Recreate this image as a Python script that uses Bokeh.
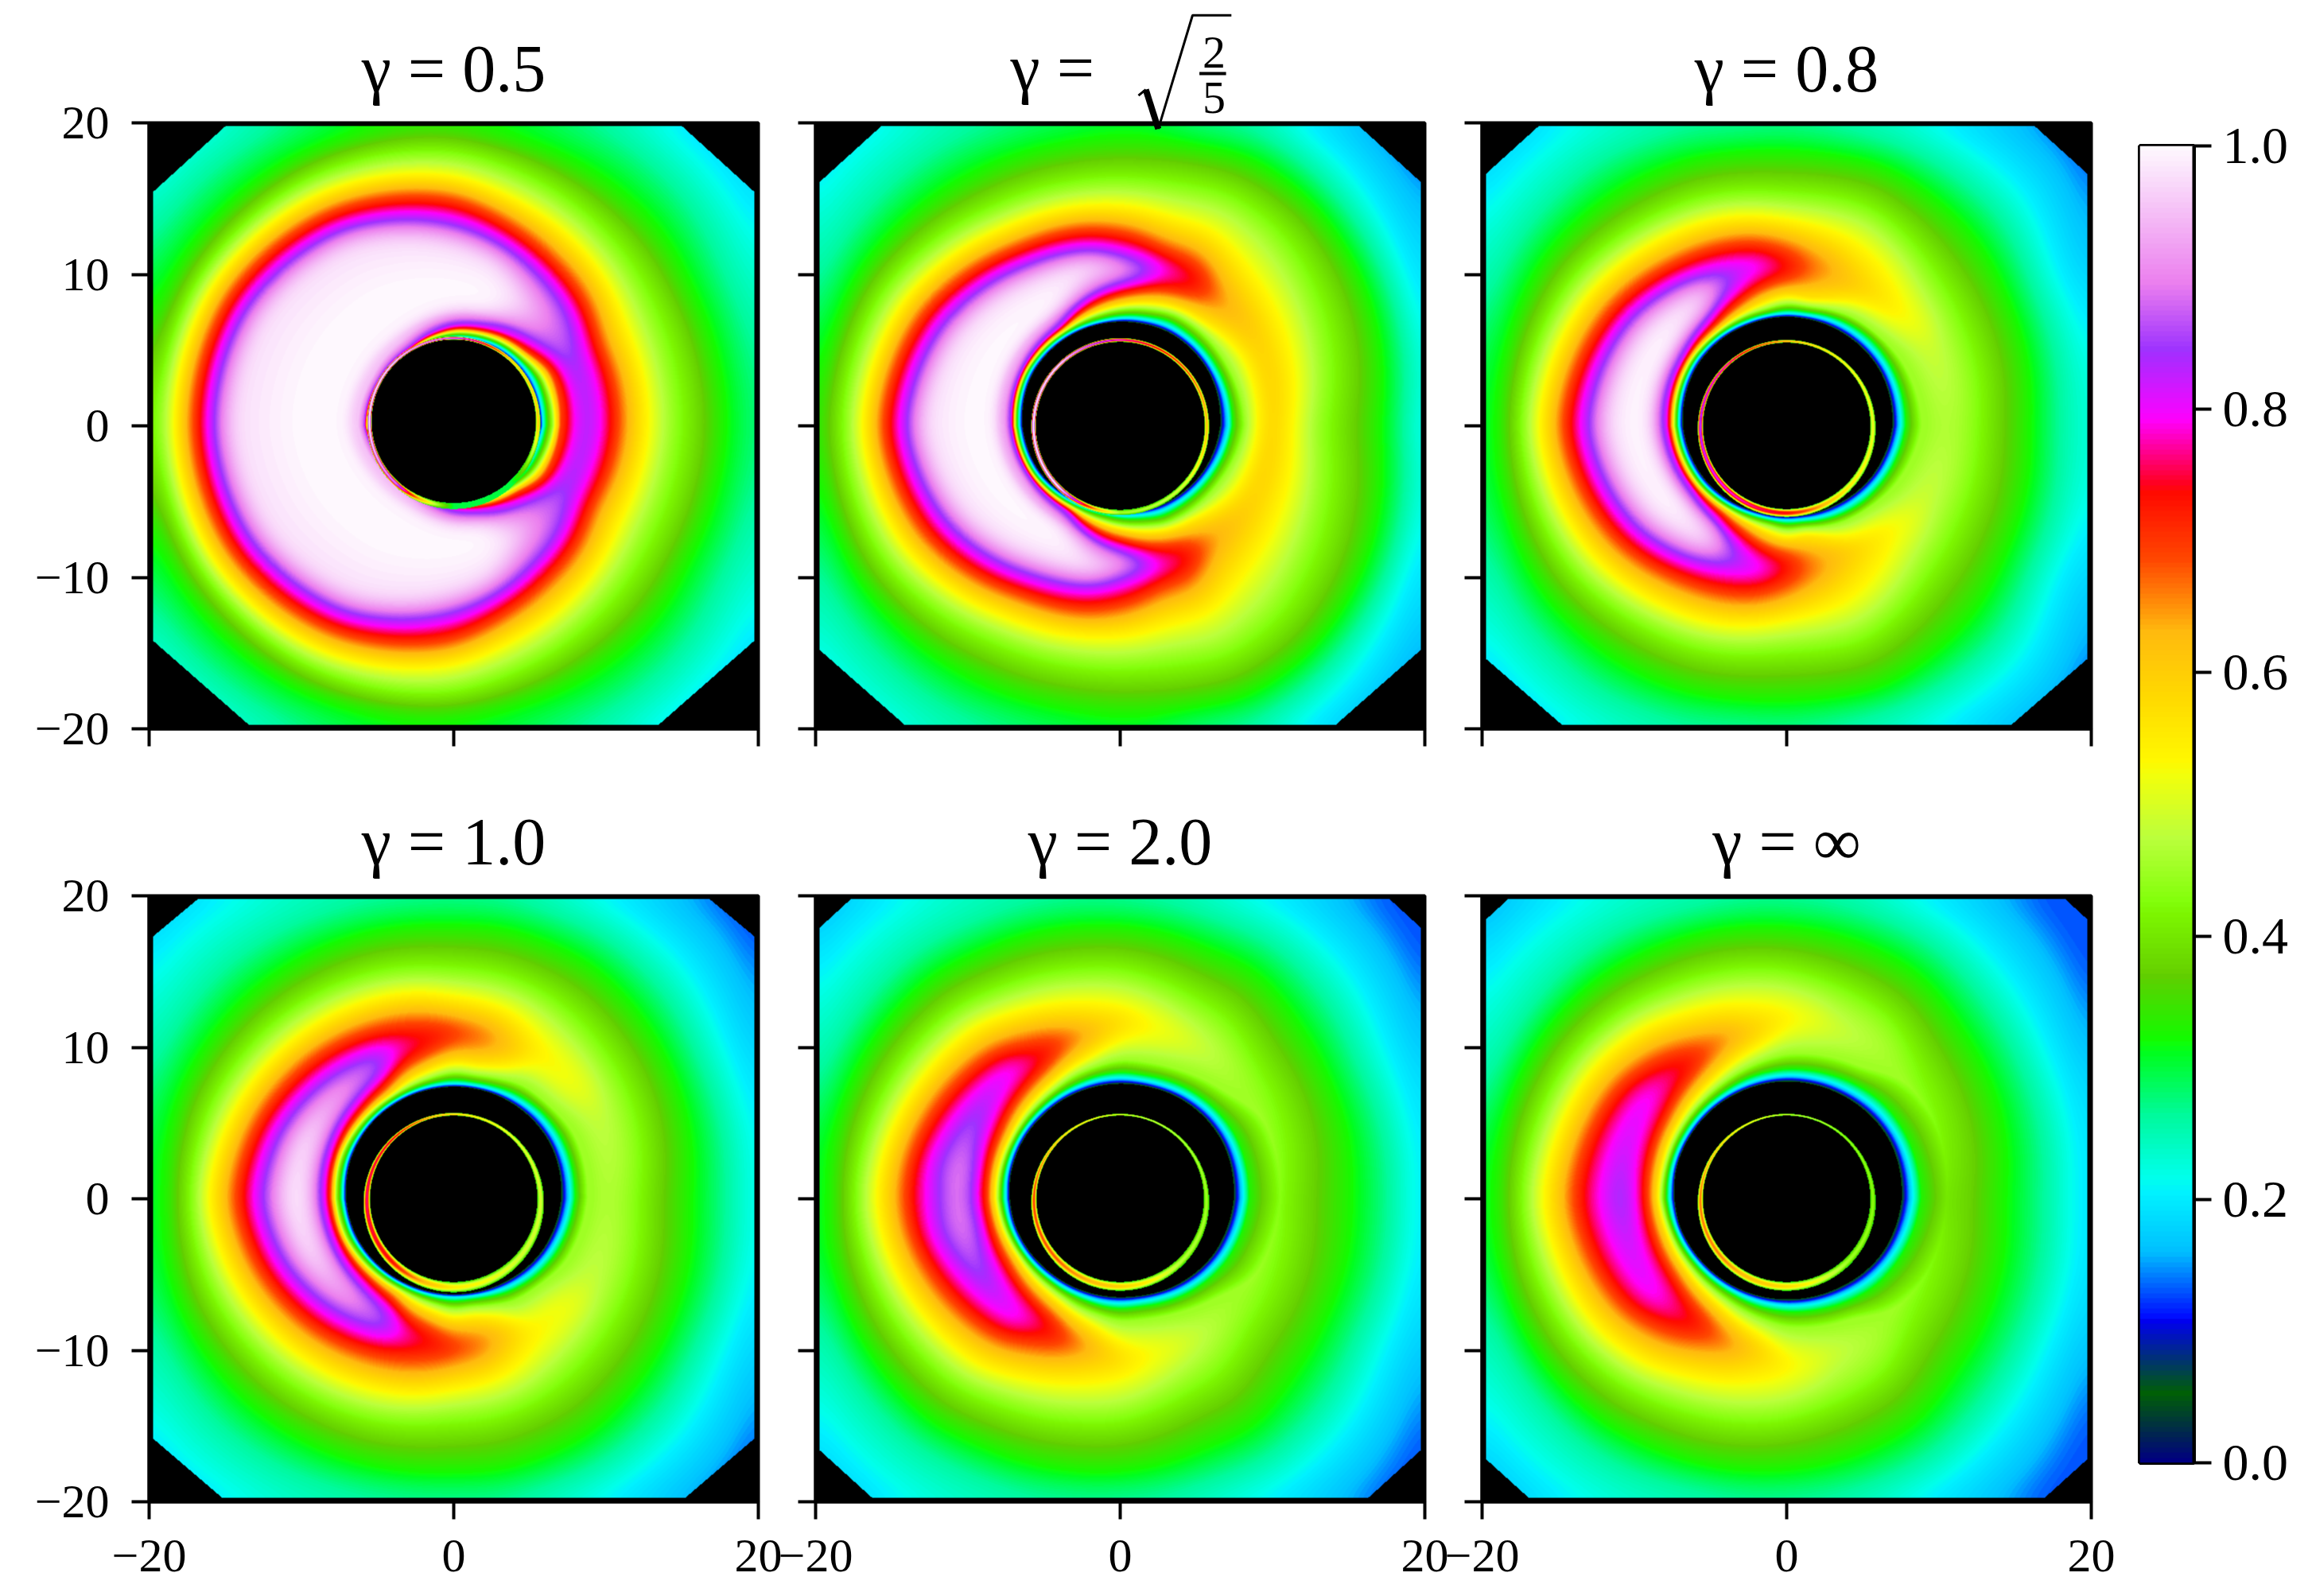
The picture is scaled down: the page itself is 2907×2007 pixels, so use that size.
import numpy as np
from bokeh.core.properties import value
from bokeh.embed import file_html
from bokeh.layouts import column, row
from bokeh.models import FixedTicker, LinearColorMapper, Range1d
from bokeh.plotting import figure
from bokeh.resources import INLINE

TITLES = ["γ = 0.5", None, "γ = 0.8", "γ = 1.0", "γ = 2.0", "γ = ∞"]
XY_TICKS = [-20, 0, 20]
XY_LABELS = ["−20", "0", "20"]
YAX_TICKS = [-20, -10, 0, 10, 20]
YAX_LABELS = ["−20", "−10", "0", "10", "20"]
CB_TICKS = [0.0, 0.2, 0.4, 0.6, 0.8, 1.0]
CB_LABELS = ["0.0", "0.2", "0.4", "0.6", "0.8", "1.0"]

# colour scale stops read as the gist_ncar map (position, level)
RED = [(0, 0), (.3098, 0), (.3725, .3993), (.4235, .5003), (.5333, 1), (.7922, 1), (.8471, .6218), (.898, .9235), (1, .9961)]
GREEN = [(0, 0), (.051, .3722), (.1059, 0), (.1569, .7202), (.1608, .7537), (.1647, .7752), (.2157, 1), (.2588, .9804),
         (.2706, .9804), (.3176, 1), (.3686, .8081), (.4275, 1), (.5216, 1), (.6314, .7292), (.6863, .2796), (.7451, 0),
         (.7922, 0), (.8431, .1753), (.898, .5), (1, .9725)]
BLUE = [(0, .502), (.051, .0222), (.1098, 1), (.2039, 1), (.2627, .6145), (.3216, 0), (.4157, 0), (.4745, .2342), (.5333, 0),
        (.5804, 0), (.6314, .0549), (.6902, 0), (.7373, 0), (.7922, .9738), (.8, 1), (.8431, 1), (.898, .9341), (1, .9961)]

# levels that the radii in the tables below refer to
RISE_LEVELS = [.05, .2, .33, .45, .6, .74, .87, .995]
FALL_LEVELS = [.975, .87, .8, .74, .65, .52, .45, .38, .33, .26, .2, .13]

# each row, read along one ray in the upper half of a panel:
# (angle in degrees, peak value, radius of peak, radii of rising levels, radii of falling levels)
P_05 = [
    (0, .86, 8.8, [5.67, 5.85, 6.1, 6.5, 6.8, 7.05], [9.7, 10.3, 11.2, 12.9, 14.2, 16.2, 17.6, 20.2, 24, 30]),
    (15, .86, 8.8, [5.7, 5.9, 6.2, 6.55, 6.9, 7.2], [9.8, 10.4, 11.3, 13, 14.3, 16.3, 17.6, 20.3, 24, 30]),
    (30, .87, 8.7, [5.7, 6, 6.3, 6.6, 7, 7.4], [10, 10.6, 11.3, 13.2, 14.6, 16.5, 17.8, 20.5, 24, 30]),
    (45, .89, 8.9, [5.75, 6, 6.2, 6.4, 6.65, 6.9, 7.6], [10.4, 10.95, 11.5, 12.5, 14, 15.3, 17, 18.5, 21.5, 24.5, 30]),
    (60, .97, 9, [5.8, 6, 6.2, 6.35, 6.55, 6.8, 7.1], [11.2, 11.8, 12.3, 13.2, 14.8, 16, 17.5, 18.8, 22, 25, 30]),
    (75, 1, 9.2, [5.8, 5.95, 6.1, 6.25, 6.4, 6.6, 6.9, 7.6], [11.2, 12.1, 12.7, 13.3, 14.2, 15.5, 16.8, 18.1, 19.1, 22, 25.3, 30]),
    (90, 1, 9.5, [5.75, 5.85, 6, 6.15, 6.3, 6.45, 6.7, 7.5], [12.05, 13, 13.7, 14.5, 15.4, 16.5, 17.7, 18.8, 19.5, 22, 25.5, 30]),
    (120, 1, 10, [5.6, 5.65, 5.7, 5.75, 5.8, 5.85, 6, 6.6], [13.8, 14.7, 15.3, 15.85, 16.7, 17.7, 18.6, 19.5, 20.3, 23, 26.5, 31]),
    (150, 1, 10, [5.5, 5.55, 5.6, 5.65, 5.7, 5.75, 5.85, 6.25], [14.5, 15.5, 16.05, 16.65, 17.45, 18.4, 19.1, 19.8, 20.7, 23.5, 27, 31]),
    (180, 1, 10, [5.55, 5.6, 5.65, 5.7, 5.75, 5.8, 5.9, 6.3], [14.6, 15.6, 16.1, 16.7, 17.5, 18.4, 19.1, 19.8, 20.7, 23.5, 27, 31]),
]
P_S25 = [
    (0, .6, 10, [6.55, 7.1, 7.4, 8.2, 9.6], [11.5, 12.7, 15, 16.9, 18.6, 19.8, 26]),
    (30, .6, 10.7, [6.8, 7.15, 7.5, 8.1, 10.2], [12.8, 14.5, 16.8, 18.4, 20.1, 21.6, 26]),
    (50, .65, 10.6, [6.9, 7.25, 7.6, 8.2, 9.1], [13.6, 15.8, 17.8, 19.3, 21, 23, 27]),
    (65, .76, 10.8, [6.95, 7.3, 7.7, 8.2, 8.9, 9.9], [11.4, 12.5, 14.5, 16.3, 18, 19.5, 21.5, 23.5]),
    (76, .82, 10.6, [6.9, 7.2, 7.5, 7.95, 8.6, 9.5], [11, 11.5, 12.4, 14.3, 15.8, 17.6, 19, 20.6, 22.5]),
    (85, .93, 10.3, [6.88, 7.15, 7.4, 7.8, 8.3, 9, 9.7], [10.8, 11.3, 12.2, 13, 14.6, 15.8, 17.3, 19, 20.7, 22.5]),
    (100, .98, 10.6, [6.85, 7, 7.2, 7.5, 7.9, 8.4, 8.9], [11, 11.6, 12.1, 12.8, 13.6, 14.8, 15.9, 17.3, 18.8, 21, 24]),
    (120, 1, 9.5, [6.8, 6.95, 7.1, 7.2, 7.35, 7.5, 7.7, 8.4], [11.3, 12, 12.6, 13.2, 13.9, 15.2, 16.2, 17.6, 19, 22, 26]),
    (150, 1, 10, [6.7, 6.88, 7.03, 7.12, 7.22, 7.32, 7.47, 7.9], [12.3, 13.2, 13.8, 14.5, 15.3, 16.5, 17.5, 18.7, 19.7, 22, 26]),
    (180, 1, 10, [6.4, 6.6, 6.75, 6.85, 6.95, 7.05, 7.2, 7.6], [13, 13.8, 14.5, 15.2, 16, 17, 17.9, 18.9, 19.5, 21.5, 26, 30]),
]
P_08 = [
    (0, .47, 10.5, [6.94, 7.45, 7.85, 8.9], [11.8, 13.9, 15.8, 17.9, 21, 28]),
    (30, .5, 10.8, [7.12, 7.55, 7.95, 8.7], [12.5, 14.7, 16.6, 18.6, 20.6, 25]),
    (45, .55, 10.2, [7.15, 7.55, 8, 8.5], [11.4, 13.2, 15.2, 17.3, 19.8, 22.3, 27]),
    (60, .6, 10.2, [7.15, 7.55, 7.9, 8.4], [12.7, 14.3, 16, 17.8, 20, 22.4, 27]),
    (70, .63, 10.6, [7.17, 7.5, 7.8, 8.2, 9.1], [13.3, 14.9, 16.5, 18.2, 20, 22.5]),
    (80, .67, 10.4, [7.18, 7.42, 7.65, 8, 8.6], [11.4, 13.5, 14.8, 16.4, 18, 19.8, 22]),
    (90, .75, 10.5, [7.2, 7.42, 7.7, 8.1, 8.9, 10], [10.9, 12.2, 13.7, 14.8, 16.3, 18, 19.9, 22]),
    (100, .82, 10.6, [7.18, 7.38, 7.55, 7.85, 8.5, 9.6], [11.2, 11.8, 12.8, 14.2, 15.2, 16.6, 18.2, 20, 22.5]),
    (110, .85, 10.5, [7.15, 7.33, 7.52, 7.77, 8.15, 8.8], [11.4, 12.2, 13.1, 14.6, 15.6, 17, 18.5, 20.8, 24]),
    (125, .98, 9.8, [7.15, 7.35, 7.5, 7.65, 7.85, 8.2, 8.7], [10.5, 11.4, 12, 12.6, 13.5, 15, 16, 17.3, 18.8, 21.5, 25]),
    (145, 1, 10, [7.1, 7.33, 7.47, 7.62, 7.78, 7.98, 8.2, 9.1], [11.3, 12.2, 12.8, 13.4, 14.3, 15.7, 16.7, 17.9, 19.2, 21.5, 25]),
    (180, 1, 10, [6.8, 7.05, 7.2, 7.35, 7.5, 7.7, 7.95, 9], [11.8, 12.8, 13.5, 14.3, 15.1, 16.4, 17.2, 18, 18.7, 21, 25, 29]),
]
P_10 = [
    (0, .47, 10, [7.05, 7.6, 8, 8.8], [11.3, 13.3, 15.3, 18, 20, 26]),
    (30, .49, 11, [7.3, 7.75, 8.2, 9], [12.6, 14.6, 16.4, 18.6, 20.8, 25]),
    (45, .53, 10.5, [7.35, 7.78, 8.2, 8.8], [11.5, 13.2, 15.2, 17, 19.5, 22, 26.5]),
    (60, .55, 11, [7.38, 7.72, 8.1, 8.8], [12.2, 13.9, 15.8, 17.7, 20, 22.4, 27]),
    (70, .62, 10.8, [7.4, 7.65, 7.95, 8.5, 9.7], [13, 14.4, 16, 17.8, 20, 22.3]),
    (80, .68, 10.6, [7.4, 7.6, 7.85, 8.3, 9.2], [11.6, 13.3, 14.6, 16.2, 18, 20, 22.2]),
    (90, .73, 11, [7.4, 7.6, 7.9, 8.4, 9.4], [11.8, 13.5, 14.6, 16.2, 17.9, 19.8, 22]),
    (100, .755, 10.5, [7.38, 7.58, 7.8, 8.15, 8.9, 10], [11, 12.4, 14, 15, 16.5, 18.1, 20, 23]),
    (110, .79, 10.7, [7.38, 7.55, 7.72, 8, 8.6, 9.6], [11.6, 12.7, 14.3, 15.4, 16.8, 18.3, 20.5, 24.5]),
    (120, .88, 10, [7.36, 7.52, 7.67, 7.87, 8.15, 8.7, 9.7], [10.5, 11.4, 12, 13, 14.6, 15.7, 17, 18.5, 21, 25]),
    (135, .93, 10.2, [7.35, 7.5, 7.65, 7.85, 8.1, 8.45, 9.1], [11.2, 11.8, 12.6, 13.5, 15, 16.1, 17.4, 18.8, 21.5, 25.5]),
    (160, .98, 10, [7.24, 7.44, 7.62, 7.87, 8.08, 8.32, 8.75], [10.9, 11.9, 12.7, 13.4, 14.3, 15.7, 16.7, 17.9, 19.1, 21.5, 25.5]),
    (180, .99, 10.4, [7.05, 7.25, 7.45, 7.7, 7.9, 8.15, 8.6, 9.8], [11.1, 12.3, 13.1, 13.9, 14.8, 16.3, 17, 17.9, 18.7, 21, 25, 29]),
]
P_20 = [
    (0, .43, 10.5, [7.45, 8.05, 8.5], [12.3, 14.9, 17.8, 19.6, 25]),
    (30, .45, 10.8, [7.7, 8.2, 8.7], [13.5, 15.6, 18, 20.3, 24.5]),
    (45, .46, 10.8, [7.72, 8.2, 8.65, 9.9], [11.6, 14, 16.2, 19, 21.6, 26]),
    (60, .49, 11.3, [7.7, 8.1, 8.55, 9.5], [13, 15.2, 17.3, 19.7, 22.2, 27]),
    (70, .52, 11.3, [7.65, 8, 8.45, 9.3], [13.4, 15.3, 17.2, 19.6, 22]),
    (80, .54, 11.3, [7.6, 7.95, 8.35, 9.2], [12.4, 14, 15.8, 17.6, 19.7, 22]),
    (90, .59, 11.7, [7.6, 7.98, 8.4, 9.2], [13, 14.6, 16.2, 17.9, 19.7, 22]),
    (100, .64, 11, [7.58, 7.95, 8.3, 8.9, 10.2], [13.4, 14.8, 16.4, 18.1, 20, 23]),
    (110, .71, 10.9, [7.56, 7.87, 8.15, 8.7, 9.6], [11.9, 13.8, 15.2, 16.7, 18.3, 20.5, 24]),
    (120, .76, 10.4, [7.54, 7.82, 8.07, 8.42, 9.1, 10.1], [11.2, 12.5, 14.3, 15.5, 17, 18.5, 20.8, 25]),
    (130, .81, 10.9, [7.5, 7.76, 7.97, 8.27, 8.85, 9.7], [11.5, 12.3, 13.2, 15, 16.1, 17.5, 19, 21.2, 25]),
    (150, .87, 10.8, [7.45, 7.7, 7.88, 8.1, 8.45, 9.05], [12, 12.9, 13.9, 15.4, 16.5, 17.8, 19.1, 21.2, 25]),
    (170, .91, 10.6, [7.35, 7.6, 7.82, 8.05, 8.4, 8.85, 9.8], [11.7, 12.8, 13.6, 14.5, 16, 16.9, 18, 19.1, 21.2, 25]),
    (180, .91, 10.7, [7.22, 7.5, 7.75, 8, 8.35, 8.8, 9.9], [11.4, 12.6, 13.7, 14.6, 16.2, 17.1, 18, 18.8, 21, 25, 29]),
]
P_INF = [
    (0, .4, 10.5, [7.55, 8.25, 8.85], [11.8, 14, 17, 19.2, 24.5]),
    (30, .43, 11, [7.78, 8.35, 8.95], [13, 15.2, 17.8, 20, 24]),
    (45, .45, 11, [7.78, 8.35, 9], [13.7, 15.8, 18.5, 21, 25.5]),
    (60, .47, 11.5, [7.75, 8.25, 8.85, 10], [13, 15, 17, 19.4, 21.8, 26.5]),
    (75, .5, 11.6, [7.75, 8.2, 8.7, 9.8], [13.7, 15.5, 17.4, 19.7, 22]),
    (90, .55, 11.8, [7.75, 8.15, 8.6, 9.6], [12.9, 14.5, 16.1, 17.8, 19.7, 22]),
    (105, .63, 11.2, [7.72, 8.05, 8.45, 9.1, 10.6], [13.6, 15, 16.6, 18.2, 20, 23]),
    (120, .72, 10.9, [7.68, 7.95, 8.22, 8.7, 9.6], [12.2, 14.2, 15.5, 17, 18.5, 20.8, 24.5]),
    (130, .76, 11, [7.65, 7.9, 8.15, 8.52, 9.25, 10.4], [11.7, 13, 14.9, 16, 17.4, 18.9, 21, 24.8]),
    (145, .81, 11, [7.58, 7.82, 8.05, 8.35, 8.88, 9.65], [11.8, 12.8, 13.8, 15.5, 16.5, 17.8, 19.1, 21, 24.8]),
    (165, .84, 10.9, [7.52, 7.75, 7.98, 8.22, 8.65, 9.35], [12, 13.2, 14.2, 15.8, 16.8, 18, 19.1, 21, 24.8]),
    (180, .87, 10.7, [7.35, 7.65, 7.9, 8.2, 8.6, 9.2], [12.2, 13.5, 14.5, 16.2, 17.1, 18, 18.9, 21, 24.8, 29]),
]
PANELS = [P_05, P_S25, P_08, P_10, P_20, P_INF]

# how far the lower half differs from the upper half, against radius
DY_RADII = [7, 11, 14, 18]
DY_VALUES = [[.55, .5, .45, .25], [.6, .6, .35, 0], [.6, .6, .35, 0], [.55, .55, .35, 0], [.55, .55, .35, 0], [.55, .55, .35, 0]]

# thin ring round the central disc: value at 0, 45, ... 315 degrees
RING_ANGLES = [0, 45, 90, 135, 180, 225, 270, 315, 360]
RING_VALUES = [
    [.6, .6, .9, 1, 1, .9, .3, .3],
    [.62, .7, .8, 1, 1, 1, .45, .5],
    [.52, .55, .65, .8, .85, .8, .74, .55],
    [.5, .52, .6, .75, .77, .74, .55, .5],
    [.45, .47, .52, .62, .7, .68, .6, .47],
    [.43, .44, .5, .6, .67, .66, .58, .45],
]
DISC_R = [5.4, 5.55, 5.5, 5.5, 5.5, 5.5]
DISC_DY = [.3, 0, 0, 0, 0, 0]
RING_R = [5.7, 5.85, 5.85, 5.93, 5.85, 5.85]
RING_DY = [.2, -.05, -.17, -.25, -.23, -.23]
# size of the cut corners: top x, top y, bottom x, bottom y
CORNERS = [(5.2, 4.75, 6.8, 6), (4.5, 4.1, 6.1, 5.4), (3.9, 3.55, 5.5, 4.8),
           (3.4, 2.85, 5.05, 4.35), (2.5, 2.3, 3.95, 3.6), (1.9, 1.75, 3.3, 3)]


def channel(stops, x):
    a = np.array(stops, dtype=float)
    return np.interp(x, a[:, 0], a[:, 1])


pos = np.linspace(0, 1, 256)
palette = ["#%02x%02x%02x" % tuple(int(round(c * 255)) for c in t)
           for t in zip(channel(RED, pos), channel(GREEN, pos), channel(BLUE, pos))]
mapper = LinearColorMapper(palette=palette, low=0, high=1, nan_color="black")


def knot_table(rows):
    th, peak, knots = [], [], []
    for t, p, rp, rise, fall in rows:
        ks = [rp] * (len(RISE_LEVELS) + 1 + len(FALL_LEVELS))
        ks[:len(rise)] = rise
        start = next(i for i, l in enumerate(FALL_LEVELS) if l < p)
        base = len(RISE_LEVELS) + 1
        for i, r in enumerate(fall):
            ks[base + start + i] = r
        n = start + len(fall)
        if n < len(FALL_LEVELS):
            ks[base + n] = fall[-1] + 5
        th.append(t)
        peak.append(p)
        knots.append(ks)
    return np.array(th, float), np.array(peak, float), np.array(knots, float)


def circular_smooth(a, w):
    kk = np.zeros_like(a)
    kk[:w] = 1.0 / w
    kk = np.roll(kk, -(w // 2))
    fk = np.fft.rfft(kk)
    return np.fft.irfft(np.fft.rfft(a) * fk * fk, len(a))


def gauss_blur(a, s):
    pad = int(4 * s) + 2
    b = np.pad(a, pad)
    fy = np.fft.fftfreq(b.shape[0])[:, None]
    fx = np.fft.rfftfreq(b.shape[1])[None, :]
    g = np.exp(-2 * (np.pi * s) ** 2 * (fx ** 2 + fy ** 2))
    return np.fft.irfft2(np.fft.rfft2(b) * g, b.shape)[pad:-pad, pad:-pad]


def field(i, nx=766, ny=762):
    th, peak, knots = knot_table(PANELS[i])
    ang = np.arange(0, 360, .25)
    t = np.minimum(ang, 360 - ang)
    Pk = circular_smooth(np.interp(t, th, peak), 28)
    Rk = np.array([circular_smooth(np.interp(t, th, knots[:, k]), 28) for k in range(knots.shape[1])]).T
    lower = np.abs(np.minimum(np.sin(np.radians(ang)), 0))[:, None]
    Rk = Rk - 2 * np.interp(Rk, DY_RADII, DY_VALUES[i]) * lower
    Rk = np.maximum.accumulate(Rk, axis=1)
    levels = np.array(RISE_LEVELS + [2.0] + FALL_LEVELS)

    x = np.linspace(-20, 20, nx)
    y = np.linspace(-20, 20, ny)
    X, Y = np.meshgrid(x, y)
    R = np.hypot(X, Y)
    idx = np.round(np.degrees(np.arctan2(Y, X)) % 360 / .25).astype(int) % len(ang)
    Z = np.full(X.shape, np.nan)
    W = np.zeros(X.shape)
    for j in range(len(ang)):
        m = idx == j
        if m.any():
            v = np.minimum(levels, Pk[j])
            rr = Rk[j] + np.arange(len(levels)) * 1e-4
            z = np.interp(R[m], rr, v)
            z[R[m] < rr[0]] = np.nan
            Z[m] = z
            W[m] = np.clip((R[m] - rr[3]) / 1.2, 0, 1)

    # soften the ridge of every ray, away from the sharp inner rim
    ok = np.isfinite(Z)
    num = gauss_blur(np.where(ok, Z, 0.0), 12)
    den = gauss_blur(ok.astype(float), 12)
    S = num / np.maximum(den, 1e-3)
    Z = np.where(ok, Z * (1 - W) + S * W, np.nan)

    # thin ring
    Rd = np.hypot(X, Y - DISC_DY[i])
    Ro = np.hypot(X, Y - RING_DY[i])
    a = np.degrees(np.arctan2(Y, X)) % 360
    rv = np.interp(a, RING_ANGLES, RING_VALUES[i] + RING_VALUES[i][:1])
    m = (Rd >= DISC_R[i]) & (Ro <= RING_R[i])
    w = np.maximum(RING_R[i] - (DISC_R[i] + Ro - Rd), .05)
    s = np.clip((Rd - DISC_R[i]) / w, 0, 1)
    Z[m] = (.3 + (rv - .3) * np.sin(np.pi * s) ** .7)[m]
    Z[Rd < DISC_R[i]] = np.nan

    # octagonal edge of the computed area
    tx, ty, bx, by = CORNERS[i]
    E = 19.75
    Z[(np.abs(X) > E) | (Y > E + .05) | (Y < -E)] = np.nan
    Z[(20 - np.abs(X)) / tx + (20 - Y) / ty < 1] = np.nan
    Z[(20 - np.abs(X)) / bx + (Y + 20) / by < 1] = np.nan
    return Z.astype(np.float32)


FONT = "Liberation Serif"
TICK_FS = "60px"


def style_axis(ax, ticks, labels, show, fs=TICK_FS):
    ax.ticker = FixedTicker(ticks=ticks)
    ax.major_label_overrides = {t: (l if show else "") for t, l in zip(ticks, labels)}
    ax.major_label_text_font = FONT
    ax.major_label_text_font_size = fs
    ax.major_label_text_color = "black"
    ax.major_tick_in = 0
    ax.major_tick_out = 22
    ax.major_tick_line_width = 4
    ax.major_tick_line_color = "black"
    ax.minor_tick_line_color = None
    ax.axis_line_width = 4
    ax.axis_line_color = "black"


def panel(i):
    col, rw = i % 3, i // 3
    left = 187 if col == 0 else 60
    top = 154 if rw == 0 else 142
    bottom = 68 if rw == 0 else 100
    margin = (0, -28, 0, 0) if col < 2 else (0, 0, 0, 0)
    p = figure(frame_width=766, frame_height=762, output_backend="svg", toolbar_location=None,
               x_range=Range1d(-20, 20), y_range=Range1d(-20, 20),
               min_border_left=left, min_border_right=40, min_border_top=top, min_border_bottom=bottom,
               background_fill_color="black", border_fill_color=None, margin=margin)
    p.grid.visible = False
    p.outline_line_color = "black"
    p.outline_line_width = 4
    p.image(image=[field(i)], x=-20, y=-20, dw=40, dh=40, color_mapper=mapper)
    style_axis(p.xaxis[0], XY_TICKS, XY_LABELS, rw == 1)
    style_axis(p.yaxis[0], YAX_TICKS, YAX_LABELS, col == 0)
    p.xaxis[0].major_label_standoff = 26
    p.yaxis[0].major_label_standoff = 28
    if TITLES[i]:
        p.title.text = TITLES[i]
        p.title.align = "center"
        p.title.text_font = FONT
        p.title.text_font_style = "normal"
        p.title.text_font_size = "84px"
        p.title.text_color = "black"
        p.title.standoff = 44
    else:
        def lab(txt, x, y, fs):
            p.text(x=[x], y=[y], text=[txt], text_font=value(FONT), text_font_size=value(fs), text_color="black",
                   text_align="left", text_baseline="alphabetic", level="overlay")
        lab("γ =", -7.2, 23.6, "84px")
        lab("2", 5.4, 24.67, "58px")
        lab("5", 5.4, 21.67, "58px")
        p.line([5.2, 6.95], [23.25, 23.25], line_color="black", line_width=4, level="overlay")
        # the root sign over the fraction, as in the reference
        p.line([1.2, 1.68], [21.8, 22.2], line_color="black", line_width=3, level="overlay")
        p.line([1.68, 2.5], [22.2, 19.6], line_color="black", line_width=8, level="overlay")
        p.line([2.5, 4.75, 7.3], [19.6, 27.1, 27.1], line_color="black", line_width=3, level="overlay")
    return p


figs = [panel(i) for i in range(6)]

cb = figure(frame_width=68, frame_height=1656, output_backend="svg", toolbar_location=None,
            x_range=Range1d(0, 1), y_range=Range1d(0, 1), y_axis_location="right",
            min_border_left=21, min_border_right=140, min_border_top=183, min_border_bottom=60,
            border_fill_color=None)
cb.grid.visible = False
cb.xaxis.visible = False
cb.outline_line_color = "black"
cb.outline_line_width = 5
cb.image(image=[pos.reshape(256, 1).astype(np.float32)], x=0, y=0, dw=1, dh=1, color_mapper=mapper)
style_axis(cb.yaxis[0], CB_TICKS, CB_LABELS, True, "66px")
cb.yaxis[0].major_label_standoff = 14

layout = row(column(row(figs[0], figs[1], figs[2]), row(figs[3], figs[4], figs[5])), cb)
open("out.html", "w").write(file_html(layout, INLINE))
